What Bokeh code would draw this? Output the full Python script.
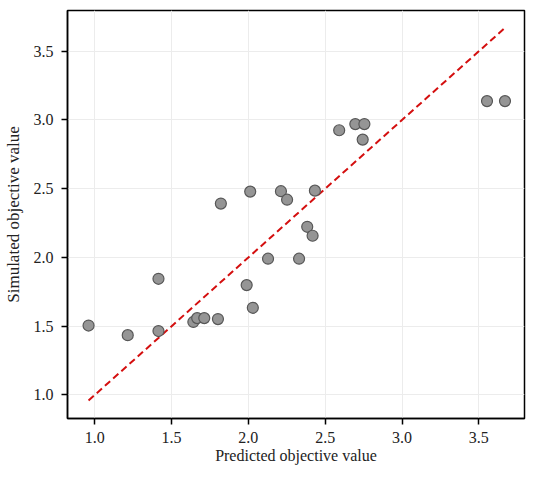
from bokeh.plotting import figure
from bokeh.models import Range1d, FixedTicker, PrintfTickFormatter
from bokeh.embed import file_html
from bokeh.resources import INLINE

predicted = [0.96, 1.215, 1.415, 1.415, 1.642, 1.667, 1.713, 1.802, 1.821, 1.989,
             2.029, 2.012, 2.128, 2.212, 2.252, 2.330, 2.433, 2.383, 2.418, 2.591,
             2.696, 2.755, 2.744, 3.553, 3.670]
simulated = [1.505, 1.435, 1.465, 1.845, 1.531, 1.559, 1.559, 1.552, 2.392, 1.799,
             1.634, 2.479, 1.991, 2.482, 2.420, 1.991, 2.486, 2.223, 2.158, 2.925,
             2.970, 2.970, 2.857, 3.137, 3.137]
ticks = [1.0, 1.5, 2.0, 2.5, 3.0, 3.5]

FONT = "Liberation Serif"

p = figure(frame_width=457, frame_height=408, output_backend="svg", toolbar_location=None,
           x_range=Range1d(0.823, 3.797), y_range=Range1d(0.829, 3.796),
           min_border_left=66, min_border_right=11, min_border_top=10, min_border_bottom=60)

lo = min(predicted)
hi = max(predicted)
p.line([lo, hi], [lo, hi], line_color="#d40f0f", line_width=2, line_dash="7 4")

p.scatter(predicted, simulated, size=11, fill_color="#959595", line_color="#575757",
          line_width=1.2)

for ax in (p.xaxis, p.yaxis):
    ax.ticker = FixedTicker(ticks=ticks)
    ax.formatter = PrintfTickFormatter(format="%.1f")
    ax.minor_tick_line_color = None
    ax.major_tick_out = 6
    ax.major_tick_in = 0
    ax.major_tick_line_color = "black"
    ax.major_tick_line_width = 1.5
    ax.axis_line_color = "black"
    ax.axis_line_width = 1.5
    ax.major_label_text_font = FONT
    ax.major_label_text_font_size = "16px"
    ax.major_label_text_color = "#222222"
    ax.axis_label_text_font = FONT
    ax.axis_label_text_font_style = "normal"
    ax.axis_label_text_color = "#222222"

p.xaxis.axis_label = "Predicted objective value"
p.yaxis.axis_label = "Simulated objective value"
p.xaxis.axis_label_text_font_size = "16px"
p.yaxis.axis_label_text_font_size = "17px"
p.xaxis.major_label_standoff = 7
p.yaxis.major_label_standoff = 8
p.xaxis.axis_label_standoff = 1
p.yaxis.axis_label_standoff = 8

p.outline_line_color = "black"
p.outline_line_width = 1.5
p.outline_line_alpha = 1.0
p.xgrid.grid_line_color = "#ececec"
p.ygrid.grid_line_color = "#ececec"
p.xgrid.ticker = FixedTicker(ticks=ticks)
p.ygrid.ticker = FixedTicker(ticks=ticks)

open("out.html", "w").write(file_html(p, INLINE))
